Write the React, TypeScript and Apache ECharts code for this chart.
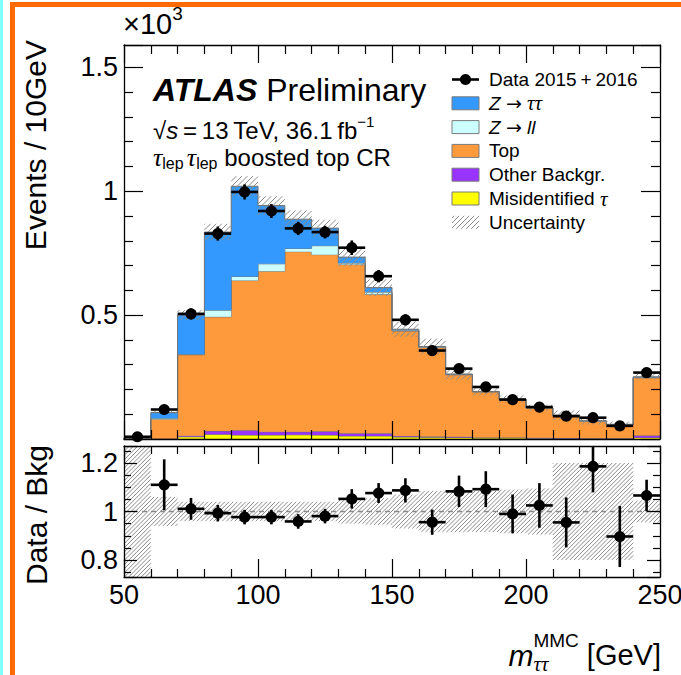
import React, { useEffect, useRef } from "react";
import * as echarts from "echarts";

// m_tautau^MMC binning (GeV), 10 GeV bins
const binEdges = [50, 60, 70, 80, 90, 100, 110, 120, 130, 140, 150, 160, 170, 180, 190, 200, 210, 220, 230, 240, 250];

// Observed events per bin
const dataEvents = [9, 119, 505, 829, 997, 920, 850, 835, 772, 657, 481, 357, 284, 210, 159, 129, 92, 86, 53, 268];

// Background predictions per bin (events), stacked bottom to top
const misidTau = [0, 1, 9, 19, 16, 16, 17, 16, 12, 12, 8, 7, 6, 4, 4, 3, 2, 2, 2, 6];
const otherBkg = [0, 1, 4, 13, 19, 13, 12, 15, 11, 11, 4, 3, 3, 2, 2, 2, 2, 1, 1, 8];
const topBkg = [3, 78, 327, 461, 605, 648, 727, 713, 681, 561, 424, 359, 250, 184, 154, 120, 91, 69, 55, 233];
const zllBkg = [0, 4, 2, 27, 16, 30, 13, 36, 6, 9, 3, 2, 2, 1, 1, 1, 1, 1, 1, 2];
const zttBkg = [0, 23, 158, 315, 364, 235, 118, 71, 24, 18, 4, 2, 1, 1, 0, 0, 0, 0, 0, 2];

// Relative uncertainty of the total background per bin
const bkgRelUnc = [1.0, 0.06, 0.04, 0.04, 0.04, 0.04, 0.04, 0.04, 0.05, 0.055, 0.07, 0.085, 0.085, 0.085, 0.09, 0.095, 0.2, 0.2, 0.2, 0.045];

// Data / background ratio and its statistical error
const ratioValues: (number | null)[] = [null, 1.11, 1.011, 0.993, 0.977, 0.977, 0.959, 0.981, 1.052, 1.076, 1.087, 0.956, 1.083, 1.092, 0.99, 1.025, 0.955, 1.186, 0.897, 1.066];
const ratioErrors: (number | null)[] = [null, 0.105, 0.045, 0.034, 0.03, 0.03, 0.03, 0.03, 0.04, 0.041, 0.05, 0.052, 0.065, 0.074, 0.08, 0.092, 0.103, 0.107, 0.126, 0.065];

// Axis ranges
const xRange = [50, 250];
const xMajorStep = 50;
const yEventsRange = [0, 1590];
const yEventsStep = 500;
const yRatioRange = [0.73, 1.27];
const yRatioStep = 0.2;

const FONT = '"Liberation Sans", Arial, Helvetica, sans-serif';
const SERIF = '"Liberation Serif", "Times New Roman", serif';

const components = [
  { name: "Misidentified {t|τ}", values: misidTau, color: "#ffff00" },
  { name: "Other Backgr.", values: otherBkg, color: "#9933ff" },
  { name: "Top", values: topBkg, color: "#ff9a3c" },
  { name: "{i|Z} {a|→} {i|ll}", values: zllBkg, color: "#ccffff" },
  { name: "{i|Z} {a|→} {t|ττ}", values: zttBkg, color: "#3399ff" },
];

const nBins = binEdges.length - 1;
const totals = binEdges.slice(0, -1).map((_, i) => components.reduce((s, c) => s + c.values[i], 0));

let measureCtx: CanvasRenderingContext2D | null = null;
function textWidth(text: string, size: number, italic = false, bold = false, family = FONT) {
  if (!measureCtx) measureCtx = document.createElement("canvas").getContext("2d");
  measureCtx!.font = `${italic ? "italic " : ""}${bold ? "bold " : ""}${size}px ${family}`;
  return measureCtx!.measureText(text).width;
}

type Piece = { text: string; size: number; dy?: number; italic?: boolean; bold?: boolean; serif?: boolean; stack?: boolean };

function layoutPieces(x0: number, cy: number, list: Piece[]) {
  const els: any[] = [];
  let x = x0;
  let lastStart = x0;
  let lastW = 0;
  for (const p of list) {
    const family = p.serif ? SERIF : FONT;
    const w = textWidth(p.text, p.size, p.italic, p.bold, family);
    let px: number;
    if (p.stack) {
      px = lastStart;
      const adv = Math.max(lastW, w);
      x = lastStart + adv;
      lastW = adv;
    } else {
      px = x;
      lastStart = x;
      lastW = w;
      x += w;
    }
    els.push({
      type: "text",
      x: px,
      y: cy + (p.dy || 0),
      style: {
        text: p.text,
        fontSize: p.size,
        fontFamily: family,
        fontStyle: p.italic ? "italic" : "normal",
        fontWeight: p.bold ? "bold" : "normal",
        fill: "#000",
        align: "left",
        verticalAlign: "middle",
      },
    });
  }
  return { els, width: x - x0 };
}

function piecesWidth(list: Piece[]) {
  return layoutPieces(0, 0, list).width;
}

function hatchLines(x0: number, y0: number, x1: number, y1: number, step: number, color: string, width: number) {
  const lines: any[] = [];
  const start = Math.ceil((x0 + y0) / step) * step;
  for (let c = start; c <= x1 + y1; c += step) {
    const xa = Math.max(x0, c - y1);
    const xb = Math.min(x1, c - y0);
    if (xb - xa > 0.3) {
      lines.push({
        type: "line",
        shape: { x1: xa, y1: c - xa, x2: xb, y2: c - xb },
        style: { stroke: color, lineWidth: width },
      });
    }
  }
  return lines;
}

function clampY(y: number, cs: any) {
  return Math.min(cs.y + cs.height, Math.max(cs.y, y));
}

function axisPair(gridIndex: number, showLabels: boolean, majorLen: number, minorLen: number) {
  const common = {
    gridIndex,
    type: "value" as const,
    min: xRange[0],
    max: xRange[1],
    interval: xMajorStep,
    z: 10,
    axisLine: { show: true, onZero: false, lineStyle: { color: "#000", width: 1.3 } },
    axisTick: { show: true, inside: true, length: majorLen, lineStyle: { color: "#000", width: 1.2 } },
    minorTick: { show: true, splitNumber: 5, length: minorLen, lineStyle: { color: "#000", width: 1.2 } },
    splitLine: { show: false },
    minorSplitLine: { show: false },
  };
  return [
    {
      ...common,
      position: "bottom",
      axisLabel: {
        show: showLabels,
        fontSize: 27,
        fontFamily: FONT,
        color: "#000",
        margin: 4,
      },
    },
    { ...common, position: "top", axisLabel: { show: false } },
  ];
}

function yPair(gridIndex: number, range: number[], minorSplit: number, majorLen: number, minorLen: number, fmt: (v: number) => string, extra: any) {
  const common = {
    gridIndex,
    type: "value" as const,
    min: range[0],
    max: range[1],
    z: 10,
    axisLine: { show: true, onZero: false, lineStyle: { color: "#000", width: 1.3 } },
    axisTick: { show: true, inside: true, length: majorLen, lineStyle: { color: "#000", width: 1.2 } },
    minorTick: { show: true, splitNumber: minorSplit, length: minorLen, lineStyle: { color: "#000", width: 1.2 } },
    splitLine: { show: false },
    minorSplitLine: { show: false },
    ...extra,
  };
  return [
    {
      ...common,
      position: "left",
      axisLabel: {
        show: true,
        fontSize: 27,
        fontFamily: FONT,
        color: "#000",
        margin: 6,
        showMinLabel: false,
        showMaxLabel: false,
        formatter: fmt,
      },
    },
    { ...common, position: "right", axisLabel: { show: false } },
  ];
}

function buildOption() {
  const bins = binEdges.slice(0, -1).map((lo, i) => [lo, binEdges[i + 1], totals[i]]);

  // cumulative levels: level k is the top of component k
  const cumulative: number[][] = [];
  components.forEach((c, k) => {
    cumulative.push(c.values.map((v, i) => v + (k > 0 ? cumulative[k - 1][i] : 0)));
  });

  // each component drawn as one step-shaped polygon over all bins
  const stackSeries = {
    type: "custom",
    xAxisIndex: 0,
    yAxisIndex: 0,
    z: 2,
    encode: { x: 0, y: 1 },
    data: components.map((_, k) => [xRange[0], 0, k]),
    renderItem: (params: any, api: any) => {
      const k = api.value(2);
      const upper = cumulative[k];
      const lower = k > 0 ? cumulative[k - 1] : upper.map(() => 0);
      const pts: number[][] = [];
      for (let i = 0; i < nBins; i++) {
        pts.push(api.coord([binEdges[i], upper[i]]));
        pts.push(api.coord([binEdges[i + 1], upper[i]]));
      }
      for (let i = nBins - 1; i >= 0; i--) {
        pts.push(api.coord([binEdges[i + 1], lower[i]]));
        pts.push(api.coord([binEdges[i], lower[i]]));
      }
      const outline: number[][] = [api.coord([binEdges[0], 0])];
      for (let i = 0; i < nBins; i++) {
        outline.push(api.coord([binEdges[i], upper[i]]));
        outline.push(api.coord([binEdges[i + 1], upper[i]]));
      }
      return {
        type: "group",
        children: [
          { type: "polygon", shape: { points: pts }, style: { fill: components[k].color } },
          { type: "polyline", shape: { points: outline }, style: { stroke: "#6e6e6e", lineWidth: 1, fill: "none" } },
        ],
      };
    },
  };

  const uncTopSeries = {
    type: "custom",
    xAxisIndex: 0,
    yAxisIndex: 0,
    z: 3,
    encode: { x: [0, 1], y: 2 },
    data: bins,
    renderItem: (params: any, api: any) => {
      const i = params.dataIndex;
      const t = api.value(2);
      const u = bkgRelUnc[i];
      const cs = params.coordSys;
      const a = api.coord([api.value(0), t * (1 + u)]);
      const b = api.coord([api.value(1), Math.max(0, t * (1 - u))]);
      return { type: "group", children: hatchLines(a[0], clampY(a[1], cs), b[0], clampY(b[1], cs), 5.5, "#8c8c8c", 1) };
    },
  };

  const pointsTop = binEdges.slice(0, -1).map((lo, i) => {
    const r = ratioValues[i];
    const e = ratioErrors[i];
    const err = r && e ? (dataEvents[i] * e) / r : 0;
    return [(lo + binEdges[i + 1]) / 2, dataEvents[i], err, lo, binEdges[i + 1]];
  });

  const pointsRatio = binEdges
    .slice(0, -1)
    .map((lo, i) => (ratioValues[i] == null ? null : [(lo + binEdges[i + 1]) / 2, ratioValues[i], ratioErrors[i], lo, binEdges[i + 1]]))
    .filter((p) => p !== null);

  const pointRender = (params: any, api: any) => {
    const cs = params.coordSys;
    const x = api.value(0);
    const y = api.value(1);
    const err = api.value(2);
    const c = api.coord([x, y]);
    const l = api.coord([api.value(3), y]);
    const r = api.coord([api.value(4), y]);
    const up = api.coord([x, y + err]);
    const dn = api.coord([x, y - err]);
    const st = { stroke: "#000", lineWidth: 2.6 };
    return {
      type: "group",
      children: [
        { type: "line", shape: { x1: l[0], y1: c[1], x2: r[0], y2: c[1] }, style: st },
        { type: "line", shape: { x1: c[0], y1: clampY(up[1], cs), x2: c[0], y2: clampY(dn[1], cs) }, style: st },
        { type: "circle", shape: { cx: c[0], cy: c[1], r: 5.6 }, style: { fill: "#000" } },
      ],
    };
  };

  const dataTopSeries = {
    type: "custom",
    xAxisIndex: 0,
    yAxisIndex: 0,
    z: 4,
    encode: { x: 0, y: 1 },
    data: pointsTop,
    renderItem: pointRender,
  };

  const refLine = {
    type: "line",
    xAxisIndex: 2,
    yAxisIndex: 2,
    z: 2,
    data: [
      [xRange[0], 1],
      [xRange[1], 1],
    ],
    symbol: "none",
    silent: true,
    lineStyle: { color: "#8a8a8a", width: 1.3, type: [5, 4] },
  };

  const uncRatioSeries = {
    type: "custom",
    xAxisIndex: 2,
    yAxisIndex: 2,
    z: 3,
    encode: { x: [0, 1], y: 2 },
    data: bins.map((b, i) => [b[0], b[1], 1, bkgRelUnc[i]]),
    renderItem: (params: any, api: any) => {
      const cs = params.coordSys;
      const u = api.value(3);
      const a = api.coord([api.value(0), 1 + u]);
      const b = api.coord([api.value(1), 1 - u]);
      return { type: "group", children: hatchLines(a[0], clampY(a[1], cs), b[0], clampY(b[1], cs), 4.2, "#8c8c8c", 1) };
    },
  };

  const dataRatioSeries = {
    type: "custom",
    xAxisIndex: 2,
    yAxisIndex: 2,
    z: 4,
    encode: { x: 0, y: 1 },
    data: pointsRatio,
    renderItem: pointRender,
  };

  const graphics: any[] = [];

  // slide frame decoration
  graphics.push({ type: "rect", shape: { x: 0, y: 0, width: 3, height: 675 }, style: { fill: "#80ffff" } });
  graphics.push({ type: "rect", shape: { x: 10, y: 2, width: 5, height: 673 }, style: { fill: "#ff6a00" } });
  graphics.push({ type: "rect", shape: { x: 10, y: 2, width: 671, height: 5 }, style: { fill: "#ff6a00" } });

  // ×10^3 multiplier
  graphics.push(...layoutPieces(123, 24, [
    { text: "×10", size: 29 },
    { text: "3", size: 19, dy: -11 },
  ]).els);

  // ATLAS label block
  graphics.push(...layoutPieces(153, 90, [
    { text: "ATLAS", size: 32, bold: true, italic: true },
    { text: " Preliminary", size: 32 },
  ]).els);
  graphics.push(...layoutPieces(153, 130, [
    { text: "√", size: 24 },
    { text: "s", size: 24, italic: true },
    { text: "\u2009=\u200913\u2009TeV, 36.1\u2009fb", size: 24 },
    { text: "−1", size: 15, dy: -9 },
  ]).els);
  graphics.push(...layoutPieces(153, 157, [
    { text: "τ", size: 26, italic: true, serif: true },
    { text: "lep\u2009", size: 16, dy: 6 },
    { text: "τ", size: 26, italic: true, serif: true },
    { text: "lep", size: 16, dy: 6 },
    { text: " boosted top CR", size: 24 },
  ]).els);

  // x-axis title, right-aligned to the frame
  const xTitle: Piece[] = [
    { text: "m", size: 30, italic: true },
    { text: "MMC", size: 19, dy: -15 },
    { text: "ττ", size: 21, italic: true, serif: true, dy: 9, stack: true },
    { text: " [GeV]", size: 29 },
  ];
  graphics.push(...layoutPieces(661 - piecesWidth(xTitle), 655, xTitle).els);

  // y-axis titles
  graphics.push({
    type: "text",
    x: 35,
    y: 40,
    rotation: Math.PI / 2,
    style: { text: "Events / 10GeV", fontSize: 30, fontFamily: FONT, fill: "#000", align: "right", verticalAlign: "middle" },
  });
  graphics.push({
    type: "text",
    x: 36,
    y: 515,
    rotation: Math.PI / 2,
    style: { text: "Data / Bkg", fontSize: 30, fontFamily: FONT, fill: "#000", align: "center", verticalAlign: "middle" },
  });

  // Legend
  const lx = 452;
  const lw = 27;
  const tx = 489;
  const rowY = (k: number) => 79.5 + k * 23.8;
  const legendText = (k: number, text: string) => ({
    type: "text",
    x: tx,
    y: rowY(k),
    style: {
      text,
      fontSize: 19,
      fontFamily: FONT,
      fill: "#000",
      align: "left",
      verticalAlign: "middle",
      rich: {
        i: { fontStyle: "italic", fontSize: 19, fontFamily: FONT },
        t: { fontStyle: "italic", fontSize: 21, fontFamily: SERIF },
        a: { fontSize: 19, fontFamily: '"DejaVu Sans", sans-serif' },
      },
    },
  });
  graphics.push({ type: "line", shape: { x1: lx, y1: rowY(0), x2: lx + lw, y2: rowY(0) }, style: { stroke: "#000", lineWidth: 2.6 } });
  graphics.push({ type: "circle", shape: { cx: lx + lw / 2, cy: rowY(0), r: 5.6 }, style: { fill: "#000" } });
  graphics.push(legendText(0, "Data 2015\u2009+\u20092016"));
  const legendOrder = [components[4], components[3], components[2], components[1], components[0]];
  legendOrder.forEach((c, k) => {
    const y = rowY(k + 1);
    graphics.push({ type: "rect", shape: { x: lx, y: y - 6.5, width: lw, height: 13 }, style: { fill: c.color, stroke: "#7a7a7a", lineWidth: 1 } });
    graphics.push(legendText(k + 1, c.name));
  });
  const uy = rowY(6);
  graphics.push({ type: "group", children: hatchLines(lx, uy - 6.5, lx + lw, uy + 6.5, 5, "#8c8c8c", 1) });
  graphics.push(legendText(6, "Uncertainty"));

  const fmtEvents = (v: number) => String(Math.round(v) / 1000);
  const fmtRatio = (v: number) => String(Math.round(v * 100) / 100);

  return {
    animation: false,
    backgroundColor: "#fff",
    grid: [
      { left: 124, top: 45, width: 536, height: 394, containLabel: false, outerBoundsMode: "none" },
      { left: 124, top: 446, width: 536, height: 131, containLabel: false, outerBoundsMode: "none" },
    ],
    xAxis: [...axisPair(0, false, 18, 9), ...axisPair(1, true, 18, 8)],
    yAxis: [
      ...yPair(0, yEventsRange, 5, 19, 9, fmtEvents, { interval: yEventsStep }),
      ...yPair(1, yRatioRange, 4, 13, 7, fmtRatio, { splitNumber: 3, minInterval: yRatioStep, maxInterval: yRatioStep }),
    ],
    series: [stackSeries, uncTopSeries, dataTopSeries, refLine, uncRatioSeries, dataRatioSeries],
    graphic: graphics,
  };
}

export default function App() {
  const ref = useRef<HTMLDivElement>(null);
  useEffect(() => {
    const chart = echarts.init(ref.current!, null, { renderer: "svg" });
    chart.setOption(buildOption() as any);
    return () => chart.dispose();
  }, []);
  return (
    <div
      ref={ref}
      style={{ position: "absolute", left: 0, top: 0, width: 681, height: 675, background: "#fff" }}
    />
  );
}
